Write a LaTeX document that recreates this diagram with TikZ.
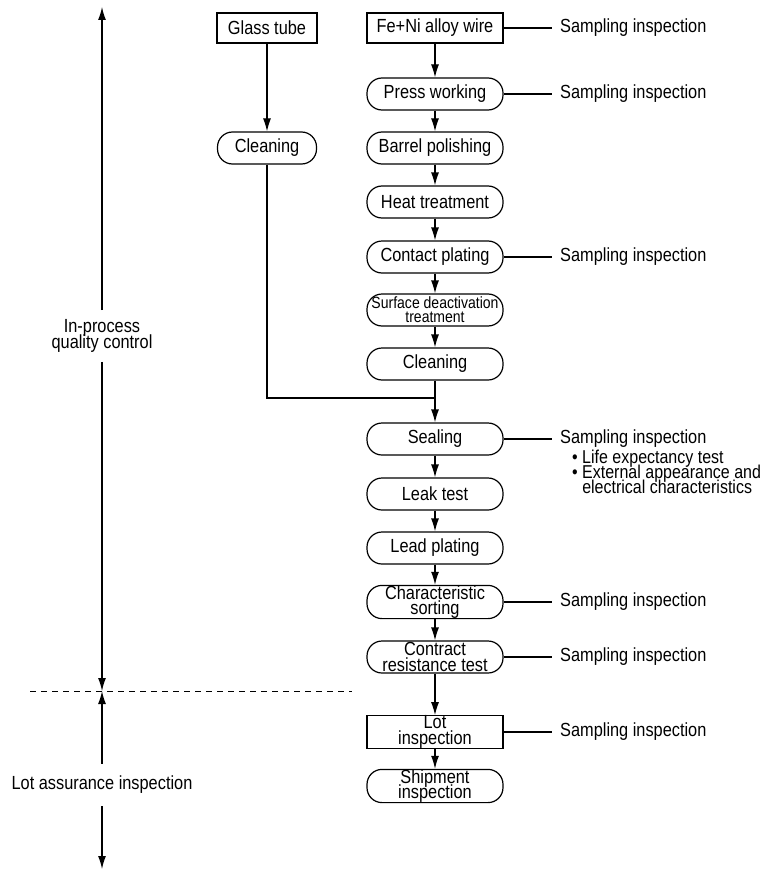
\documentclass[tikz,border=0pt]{standalone}
\usepackage{fontspec}
\setmainfont[FakeStretch=0.86]{Liberation Sans}
\usepackage{tikz}
\usetikzlibrary{arrows.meta}
\usetikzlibrary{positioning}

\newcommand{\flowfont}{\fontsize{19}{15.5}\selectfont\lineskiplimit=-100pt}
\newcommand{\smallflowfont}{\fontsize{16.3}{14}\selectfont\lineskiplimit=-100pt}
\newcommand{\testfont}{\fontsize{18.6}{15}\selectfont\lineskiplimit=-100pt}

\tikzset{
  proc/.style={draw,rectangle,rounded corners=15pt,minimum width=136pt,minimum height=32pt,inner sep=0pt,align=center,font=\flowfont},
  pbox/.style={draw,rectangle,minimum width=136pt,minimum height=30pt,inner sep=0pt,align=center,font=\flowfont},
  note/.style={inner xsep=8pt,font=\flowfont},
  flow/.style={-{Latex[length=13pt,width=8pt]}},
}

\begin{document}
\begin{tikzpicture}[x=1pt,y=-1pt,line width=1.2pt]
\useasboundingbox (0,0) rectangle (764,872);

\node[pbox,minimum width=100pt] (glass) at (267,28) {Glass tube};
\node[proc,minimum width=99pt] (clean a) at (267,148) {Cleaning};

\node[pbox] (wire) at (435,28) {Fe+Ni alloy wire};
\node[proc] (press) at (435,94) {Press working};
\node[proc] (barrel) at (435,148) {Barrel polishing};
\node[proc] (heat) at (435,202) {Heat treatment};
\node[proc] (contact) at (435,257) {Contact plating};
\node[proc,font=\smallflowfont] (surface) at (435,310) {Surface deactivation\\treatment};
\node[proc] (clean b) at (435,364) {Cleaning};
\node[proc] (sealing) at (435,439) {Sealing};
\node[proc] (leak) at (435,494) {Leak test};
\node[proc] (lead) at (435,548) {Lead plating};
\node[proc] (sorting) at (435,602) {Characteristic\\sorting};
\node[proc] (contract) at (435,657) {Contract\\resistance test};
\node[pbox,minimum height=32pt] (lot) at (435,732) {Lot\\inspection};
\node[proc] (shipment) at (435,786) {Shipment\\inspection};

\foreach \a/\b in {glass/clean a,wire/press,press/barrel,barrel/heat,heat/contact,contact/surface,surface/clean b,clean b/sealing,sealing/leak,leak/lead,lead/sorting,sorting/contract,contract/lot,lot/shipment}
  \draw[flow] (\a) -- (\b);

\coordinate (join) at (435,398);
\draw (clean a) |- (join);

\foreach \n in {wire,press,contact,sorting,contract,lot}
  \draw (\n.east) -- +(48pt,0) node[note,anchor=west] {Sampling inspection};

\node[note,right=48pt of sealing] (seal samp) {Sampling inspection};
\draw (sealing) -- (seal samp);
\node[inner sep=0pt,align=left,anchor=north west,font=\testfont] (tests) at ([xshift=20pt,yshift=2pt]seal samp.south west) {\textbullet\ Life expectancy test\\\textbullet\ External appearance and\\\phantom{\textbullet\ }electrical characteristics};

\node[align=center,font=\flowfont,inner ysep=9pt] (in process) at (102,336) {In-process\\quality control};
\node[font=\flowfont,inner ysep=12pt] (lot assurance) at (102,785) {Lot assurance inspection};

\coordinate (top) at (102,7);
\coordinate (split) at (102,691);
\coordinate (bottom) at (102,869);
\draw[flow] (in process) -- (top);
\draw[flow] (in process) -- (split);
\draw[flow] (lot assurance) -- (split);
\draw[flow] (lot assurance) -- (bottom);

\coordinate (dash start) at (30,691);
\coordinate (dash end) at (352,691);
\draw[line width=0.9pt,dash pattern=on 6pt off 5pt] (dash start) -- (dash end);
\end{tikzpicture}
\end{document}
